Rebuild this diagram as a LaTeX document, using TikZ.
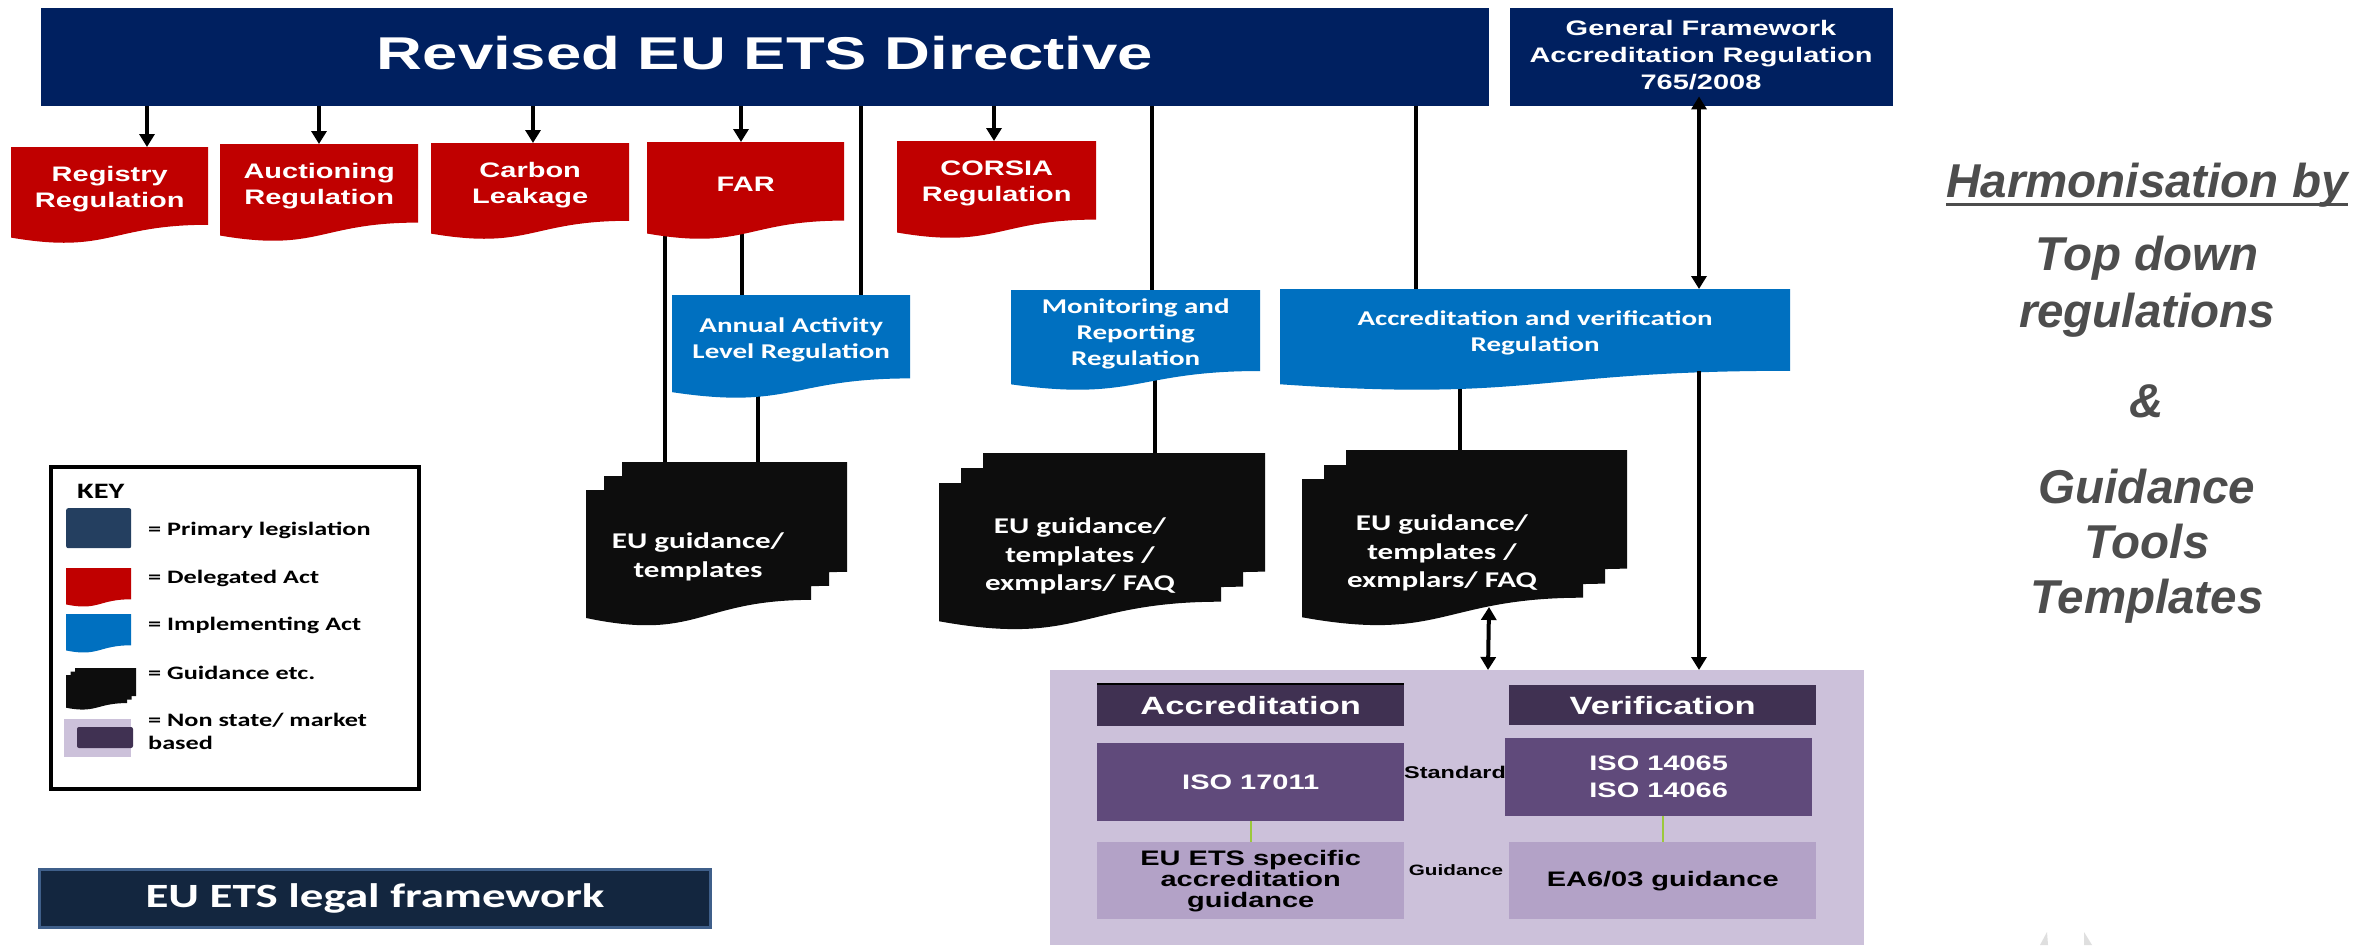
\documentclass[tikz,border=0pt]{standalone}
\usepackage{fontspec}
\usepackage{graphicx}
\usetikzlibrary{arrows.meta}
\newfontfamily\arS[FakeStretch=1.38]{Liberation Sans}
\newfontfamily\caS[FakeStretch=1.38]{Carlito}
\newfontfamily\arN{Liberation Sans}
\definecolor{navy}{HTML}{002060}
\definecolor{dred}{HTML}{C00000}
\definecolor{mblue}{HTML}{0070C0}
\definecolor{docblk}{HTML}{0D0D0D}
\definecolor{keynavy}{HTML}{243F60}
\definecolor{lfnavy}{HTML}{13263F}
\definecolor{lfborder}{HTML}{3F5F8A}
\definecolor{plight}{HTML}{CCC1DA}
\definecolor{pdark}{HTML}{403152}
\definecolor{pmid}{HTML}{604A7B}
\definecolor{pbox}{HTML}{B3A2C7}
\definecolor{gtext}{HTML}{4D4D4D}
\definecolor{lime}{HTML}{9BC83C}
\pgfdeclarelayer{back}
\pgfdeclarelayer{bg}
\pgfsetlayers{back,bg,main}
\tikzset{
 ln/.style={line width=4pt, black},
 arr/.style={ln, -{Triangle[width=15pt,length=13pt]}},
 dbl/.style={ln, {Triangle[width=15pt,length=13pt]}-{Triangle[width=15pt,length=13pt]}},
 box/.style={inner sep=0pt, anchor=north west},
 redtxt/.style={text=white, font=\arS\bfseries\fontsize{21}{26}\selectfont, align=center},
 bluetxt/.style={text=white, font=\caS\bfseries\fontsize{21}{26}\selectfont, align=center},
 doctxt/.style={text=white, font=\caS\bfseries\fontsize{22.5}{28.5}\selectfont, align=center},
 keytxt/.style={font=\caS\bfseries\fontsize{19}{23}\selectfont, align=left, anchor=west, inner sep=0pt},
 ptxt/.style={font=\arS\bfseries\fontsize{21}{21}\selectfont, align=center},
 rtxt/.style={text=gtext, font=\arN\bfseries\itshape\fontsize{47.5}{55}\selectfont, anchor=base, inner sep=0pt},
}
\newcommand\docfill[5]{\fill[#5] ({#1},{#2}) -- ({#1+#3},{#2}) -- ({#1+#3},{#2+0.802*#4}) .. controls ({#1+0.5*#3},{#2+0.802*#4}) and ({#1+0.5*#3},{#2+1.107*#4}) .. ({#1},{#2+0.934*#4}) -- cycle;}
\newcommand\docnode[8]{\docfill{#2}{#3}{#4}{#5}{#6}
 \node[box,minimum width=#4pt,minimum height=0.802*#5pt] (#1) at (#2,#3) {};
 \node[#7] (#1t) at ([yshift=-3pt]#1.center) {#8};}
\begin{document}
\begin{tikzpicture}[x=1pt,y=-1pt]
\useasboundingbox (0,0) rectangle (2371,945);
\begin{pgfonlayer}{back}
\fill[white] (0,0) rectangle (2371,945);
\end{pgfonlayer}
% main banner
\node[box, fill=navy, minimum width=1448pt, minimum height=98pt] (ets) at (41,8) {};
\node[text=white, font=\arS\bfseries\fontsize{46}{50}\selectfont] (etstxt) at (765,53) {Revised EU ETS Directive};
% general framework
\node[box, fill=navy, minimum width=383pt, minimum height=98pt] (gf) at (1510,8) {};
\node[text=white, font=\arS\bfseries\fontsize{21}{27}\selectfont, align=center] (gftxt) at (1701,55) {General Framework\\Accreditation Regulation\\765/2008};
% red delegated acts
\docnode{reg}{11}{147}{197}{97}{dred}{redtxt}{Registry\\Regulation}
\docnode{auc}{220}{144}{198}{98}{dred}{redtxt}{Auctioning\\Regulation}
\docnode{cbl}{431}{143}{198}{97}{dred}{redtxt}{Carbon\\Leakage}
\docnode{far}{647}{142}{197}{98}{dred}{redtxt}{FAR}
\docnode{cor}{897}{141}{199}{98}{dred}{redtxt}{CORSIA\\Regulation}
% blue implementing acts
\docnode{aal}{672}{295}{238}{104}{mblue}{bluetxt}{Annual Activity\\Level Regulation}
\docnode{mrr}{1011}{290}{249}{101}{mblue}{bluetxt}{Monitoring and\\Reporting\\Regulation}
\docnode{avr}{1280}{289}{510}{102}{mblue}{bluetxt}{Accreditation and verification\\Regulation}
% guidance stacks
\docfill{622}{462}{225}{137}{docblk}
\docfill{604}{476}{225}{137}{docblk}
\docfill{586}{490}{225}{137}{docblk}
\node[box, minimum width=261pt, minimum height=138pt] (g1) at (586,462) {};
\node[doctxt] (g1t) at (698,557) {EU guidance/\\templates};
\docfill{983}{453}{282}{148}{docblk}
\docfill{961}{468}{282}{148}{docblk}
\docfill{939}{483}{282}{148}{docblk}
\node[box, minimum width=326pt, minimum height=149pt] (g2) at (939,453) {};
\node[doctxt] (g2t) at (1080,556) {EU guidance/\\templates /\\exmplars/ FAQ};
\docfill{1346}{450}{281}{148}{docblk}
\docfill{1324}{465}{281}{148}{docblk}
\docfill{1302}{479}{281}{148}{docblk}
\node[box, minimum width=325pt, minimum height=148pt] (g3) at (1302,450) {};
\node[doctxt] (g3t) at (1442,553) {EU guidance/\\templates /\\exmplars/ FAQ};
% non state / market based area
\node[box, fill=plight, minimum width=814pt, minimum height=275pt] (nsm) at (1050,670) {};
\node[box, fill=pdark, minimum width=307pt, minimum height=42pt, text=white, font=\arS\bfseries\fontsize{25}{30}\selectfont] (acc) at (1097,684) {Accreditation};
\draw[line width=1.5pt] (acc.north west) -- (acc.north east);
\node[box, fill=pdark, minimum width=307pt, minimum height=40pt, text=white, font=\arS\bfseries\fontsize{25}{30}\selectfont] (ver) at (1509,685) {Verification};
\node[box, fill=pmid, minimum width=307pt, minimum height=78pt, ptxt, text=white] (iso1) at (1097,743) {ISO 17011};
\node[box, fill=pmid, minimum width=307pt, minimum height=78pt, text=white, font=\arS\bfseries\fontsize{21}{27}\selectfont, align=center] (iso2) at (1505,738) {ISO 14065\\ISO 14066};
\node[box, fill=pbox, minimum width=307pt, minimum height=77pt, ptxt] (eu1) at (1097,842) {EU ETS specific\\accreditation\\guidance};
\node[box, fill=pbox, minimum width=307pt, minimum height=77pt, ptxt] (ea6) at (1509,842) {EA6/03 guidance};
\node[font=\arS\bfseries\fontsize{17}{20}\selectfont, inner sep=0pt] (stdl) at (1455,772) {Standard};
\node[font=\arS\bfseries\fontsize{15}{18}\selectfont, inner sep=0pt] (gdl) at (1456,870) {Guidance};
\draw[lime, line width=2.5pt] (1251,0 |- iso1.south) -- (1251,0 |- eu1.north);
\draw[lime, line width=2.5pt] (1663,0 |- iso2.south) -- (1663,0 |- ea6.north);
% plain connectors behind shapes
\begin{pgfonlayer}{bg}
\draw[ln] (861,0 |- ets.south) -- (861,0 |- aal.north);
\draw[ln] (742,0 |- far.south) -- (742,0 |- aal.north);
\draw[ln] (665,0 |- far.south) -- (665,0 |- g1.north);
\draw[ln] (758,0 |- aal.south) -- (758,0 |- g1.north);
\draw[ln] (1152,0 |- ets.south) -- (1152,0 |- mrr.north);
\draw[ln] (1155,0 |- mrr.south) -- (1155,0 |- g2.north);
\draw[ln] (1416,0 |- ets.south) -- (1416,0 |- avr.north);
\draw[ln] (1460,0 |- avr.south) -- (1460,0 |- g3.north);
\end{pgfonlayer}
% arrows
\foreach \x/\n in {147/reg,319/auc,533/cbl,741/far,994/cor}
  \draw[arr] (\x,0 |- ets.south) -- (\x,0 |- \n.north);
\coordinate (gftip) at ([yshift=10pt]gf.south);
\draw[dbl] (1699,0 |- gftip) -- (1699,0 |- avr.north);
\draw[arr] (1699,0 |- avr.south) -- (1699,0 |- nsm.north);
\coordinate (g3tip) at (1489,607);
\draw[dbl] (g3tip) -- (1488,0 |- nsm.north);
% key
\node[box, draw, line width=4pt, minimum width=368pt, minimum height=322pt] (key) at (49,465) {};
\node[keytxt, font=\caS\bfseries\fontsize{22}{26}\selectfont] (keyt) at (77,491) {KEY};
\node[box, fill=keynavy, rounded corners=2pt, minimum width=65pt, minimum height=40pt] (k1) at (66,508) {};
\node[keytxt] (k1t) at (148,530) {= Primary legislation};
\docfill{66}{568}{65}{39}{dred}
\node[keytxt] (k2t) at (148,578) {= Delegated Act};
\docfill{66}{614}{65}{39}{mblue}
\node[keytxt] (k3t) at (148,625) {= Implementing Act};
\docfill{75}{668}{61}{35}{docblk}
\docfill{70.5}{671.5}{61}{35}{docblk}
\docfill{66}{675}{61}{35}{docblk}
\node[keytxt] (k4t) at (148,673) {= Guidance etc.};
\fill[plight] (64,719) rectangle (131,757);
\fill[pdark, rounded corners=2pt] (77,727) rectangle (133,748);
\node[keytxt] (k5t) at (148,731.5) {= Non state/ market\\based};
% legal framework banner
\node[box, fill=lfnavy, draw=lfborder, line width=3pt, minimum width=671pt, minimum height=58pt, text=white, font=\caS\bfseries\fontsize{34}{40}\selectfont] (lf) at (38,868) {EU ETS legal framework};
% right side text
\node[rtxt] (h1) at (2147,197) {Harmonisation by};
\draw[gtext, line width=3pt] ([yshift=-7pt]h1.base west) -- ([yshift=-7pt]h1.base east);
\node[rtxt] (h2) at (2147,270) {Top down};
\node[rtxt] (h3) at (2147,327) {regulations};
\node[rtxt] (h4) at (2147,417) {\&};
\node[rtxt] (h5) at (2147,503) {Guidance};
\node[rtxt] (h6) at (2147,558) {Tools};
\node[rtxt] (h7) at (2147,613) {Templates};
% faint fragment at bottom
\fill[gray!25] (2040,945) -- (2047,932) -- (2048,945) -- cycle;
\fill[gray!25] (2084,932) -- (2092,945) -- (2084,945) -- cycle;
\end{tikzpicture}
\end{document}
